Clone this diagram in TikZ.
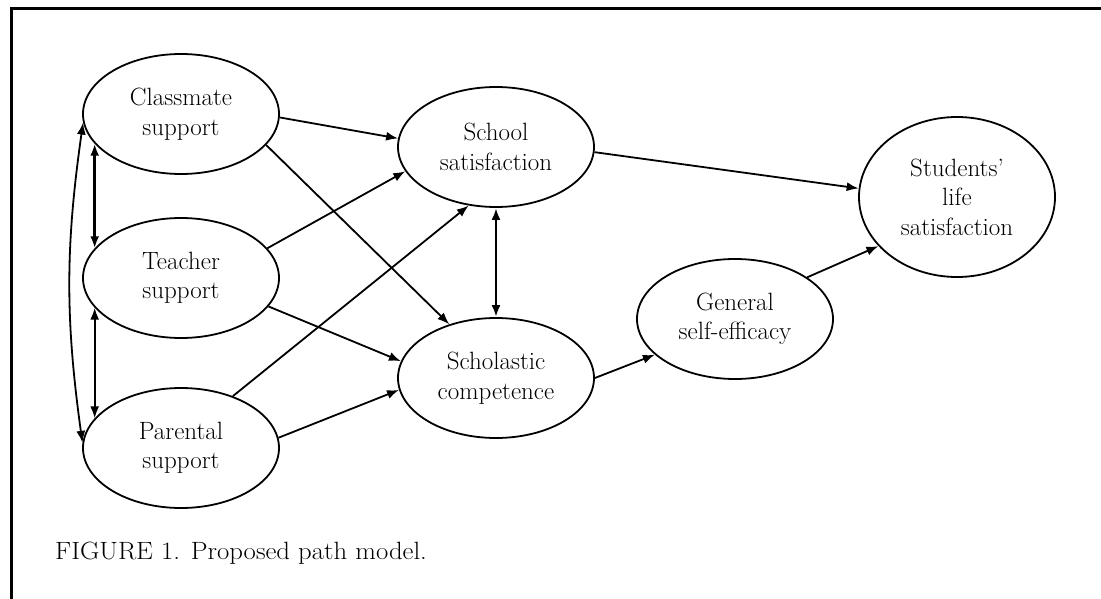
\documentclass[tikz,border=0pt]{standalone}
\usepackage{fontspec}
\usepackage{graphicx}
\usetikzlibrary{arrows.meta,shapes.geometric}
\begin{document}
\begin{tikzpicture}[x=1pt,y=-1pt,
  var/.style={draw, line width=1.8pt, ellipse, minimum width=196pt, minimum height=120pt,
    inner sep=0pt, align=center, font=\fontsize{25}{29.5}\selectfont},
  pathlink/.style={line width=1.8pt, -{Latex[length=12pt,width=9pt]}},
  cov/.style={line width=1.8pt, {Latex[length=12pt,width=9pt]}-{Latex[length=12pt,width=9pt]}},
  thickcov/.style={cov, line width=2.8pt},
  frame/.style={line width=3pt}]
\useasboundingbox (0,0) rectangle (1101,599);
\fill[white] (0,0) rectangle (1101,599);
\draw[frame] (11,599) -- (11,8.5) -- (1101,8.5);

\node[var] (C) at (181,114) {Classmate\\support};
\node[var] (T) at (181,278) {Teacher\\support};
\node[var] (P) at (181,448) {Parental\\support};
\node[var] (S) at (496,147) {School\\satisfaction};
\node[var] (K) at (496,378) {Scholastic\\competence};
\node[var] (G) at (735,319) {General\\self-efficacy};
\node[var, minimum height=160pt] (L) at (957,197) {Students’\\life\\satisfaction};

\draw[pathlink] (C.-2) -- (S.175);
\draw[pathlink] (C.-20) -- (K.131);
\draw[pathlink] (T.19) -- (S.195);
\draw[pathlink] (T.-18) -- (K.170);
\draw[pathlink] (P.45) -- (S.245);
\draw[pathlink] (P.6) -- (K.187);
\draw[thickcov] (S.south) -- (K.north);
\draw[pathlink] (K.0) -- (G.204);
\draw[pathlink] (S.-3) -- (L.175);
\draw[pathlink] (G.30) -- (L.212);
\draw[thickcov] (C.199) -- (T.161);
\draw[cov] (T.199) -- (P.161);
\draw[cov] (C.185) to[bend right=8] (P.177);

\node[anchor=west, inner sep=0pt, font=\fontsize{25}{29}\selectfont] (cap) at (55,553) {\scalebox{1.07}[1]{FIGURE 1. Proposed path model.}};
\end{tikzpicture}
\end{document}
